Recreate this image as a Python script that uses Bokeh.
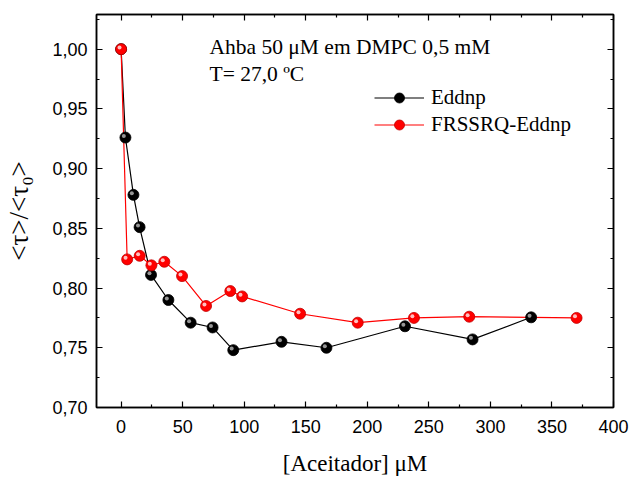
from bokeh.plotting import figure
from bokeh.models import (Range1d, LinearAxis, FixedTicker, CustomJSTickFormatter,
                          Label, Legend, LegendItem, ColumnDataSource)
from bokeh.transform import dodge
from bokeh.embed import file_html
from bokeh.resources import INLINE

# ---- data ----
eddnp_x = [0, 3.5, 10, 15, 24.3, 38.4, 56.5, 74.3, 91.1, 130.3, 166.8, 230.6, 285.5, 333.1]
eddnp_y = [1.000, 0.926, 0.878, 0.851, 0.811, 0.790, 0.771, 0.767, 0.748, 0.755, 0.750, 0.768, 0.757, 0.7755]
frssrq_x = [0, 4.9, 15.1, 24.6, 35.1, 49.5, 69.0, 88.7, 98.3, 145.4, 192.2, 237.9, 282.8, 370.0]
frssrq_y = [1.000, 0.824, 0.827, 0.819, 0.822, 0.810, 0.785, 0.7975, 0.793, 0.7785, 0.771, 0.775, 0.776, 0.775]

x_major_ticks = [0, 50, 100, 150, 200, 250, 300, 350, 400]
x_minor_ticks = [25, 75, 125, 175, 225, 275, 325, 375]
y_major_ticks = [0.70, 0.75, 0.80, 0.85, 0.90, 0.95, 1.00]
y_minor_ticks = [0.725, 0.775, 0.825, 0.875, 0.925, 0.975, 1.025]

annotation_lines = ["Ahba 50 μM em DMPC 0,5 mM", "T= 27,0 ºC"]
series_names = ["Eddnp", "FRSSRQ-Eddnp"]
x_title = "[Aceitador] μM"
y_title = "<τ>/<τ₀>"

SERIF = "Liberation Serif"
SANS = "Liberation Sans"

p = figure(width=630, height=478, x_range=Range1d(-20, 400), y_range=Range1d(0.70, 1.029),
           output_backend="svg", toolbar_location=None,
           min_border_left=96, min_border_right=17, min_border_top=14, min_border_bottom=69,
           x_axis_label=x_title, y_axis_label=y_title)
p.xgrid.visible = False
p.ygrid.visible = False
p.outline_line_color = "black"
p.outline_line_width = 1.5
p.background_fill_color = "white"
p.border_fill_color = "white"

comma_fmt = CustomJSTickFormatter(code="return tick.toFixed(2).replace('.', ',');")
int_fmt = CustomJSTickFormatter(code="return tick.toFixed(0);")
blank_fmt = CustomJSTickFormatter(code="return '';")

xt = FixedTicker(ticks=x_major_ticks, minor_ticks=x_minor_ticks)
yt = FixedTicker(ticks=y_major_ticks, minor_ticks=y_minor_ticks)

def style_axis(ax):
    ax.axis_line_color = "black"
    ax.axis_line_width = 1.5
    ax.major_tick_in = 6
    ax.major_tick_out = 0
    ax.minor_tick_in = 3
    ax.minor_tick_out = 0
    ax.major_tick_line_color = "black"
    ax.minor_tick_line_color = "black"
    ax.major_tick_line_width = 1.2
    ax.minor_tick_line_width = 1.2

xa = p.xaxis[0]
ya = p.yaxis[0]
xa.ticker = xt
ya.ticker = yt
xa.formatter = int_fmt
ya.formatter = comma_fmt
for ax in (xa, ya):
    style_axis(ax)
    ax.major_label_text_font = SANS
    ax.major_label_text_font_size = "18px"
    ax.major_label_text_color = "black"
    ax.axis_label_text_font = SERIF
    ax.axis_label_text_font_style = "normal"
    ax.axis_label_text_color = "black"
xa.major_label_standoff = 12
ya.major_label_standoff = 9
xa.axis_label_text_font_size = "23px"
ya.axis_label_text_font_size = "27px"
xa.axis_label_standoff = 15
ya.axis_label_standoff = 15

top_ax = LinearAxis(ticker=xt, formatter=blank_fmt, major_label_standoff=0)
right_ax = LinearAxis(ticker=yt, formatter=blank_fmt, major_label_standoff=0)
style_axis(top_ax)
style_axis(right_ax)
p.add_layout(top_ax, "above")
p.add_layout(right_ax, "right")

src_b = ColumnDataSource(dict(x=eddnp_x, y=eddnp_y))
src_r = ColumnDataSource(dict(x=frssrq_x, y=frssrq_y))

bl = p.line("x", "y", source=src_b, line_color="black", line_width=1.2)
rl = p.line("x", "y", source=src_r, line_color="#ff0000", line_width=1.2)
bs = p.scatter("x", "y", source=src_b, size=11, fill_color="black", line_color="black", line_width=0.8)
p.scatter(x=dodge("x", -1.3), y=dodge("y", 0.0013), source=src_b, size=4,
          fill_color="#bbbbbb", fill_alpha=0.8, line_color=None)
rs = p.scatter("x", "y", source=src_r, size=11, fill_color="#ff0000", line_color="#c00000", line_width=0.8)
p.scatter(x=dodge("x", -1.3), y=dodge("y", 0.0013), source=src_r, size=4,
          fill_color="white", fill_alpha=0.75, line_color=None)

legend = Legend(items=[LegendItem(label=series_names[0], renderers=[bl, bs]),
                       LegendItem(label=series_names[1], renderers=[rl, rs])],
                location=(278, 270), border_line_color=None, background_fill_alpha=0,
                glyph_width=50, glyph_height=25, label_height=25,
                label_text_font=SERIF, label_text_font_size="21px", label_text_color="black",
                label_standoff=7, spacing=2, padding=0, margin=0)
p.add_layout(legend)

for i, txt in enumerate(annotation_lines):
    p.add_layout(Label(x=113, y=361 - 27 * i, x_units="screen", y_units="screen", text=txt,
                       text_font=SERIF, text_font_size="21.5px", text_color="black",
                       text_baseline="alphabetic"))

open("out.html", "w").write(file_html(p, INLINE))
